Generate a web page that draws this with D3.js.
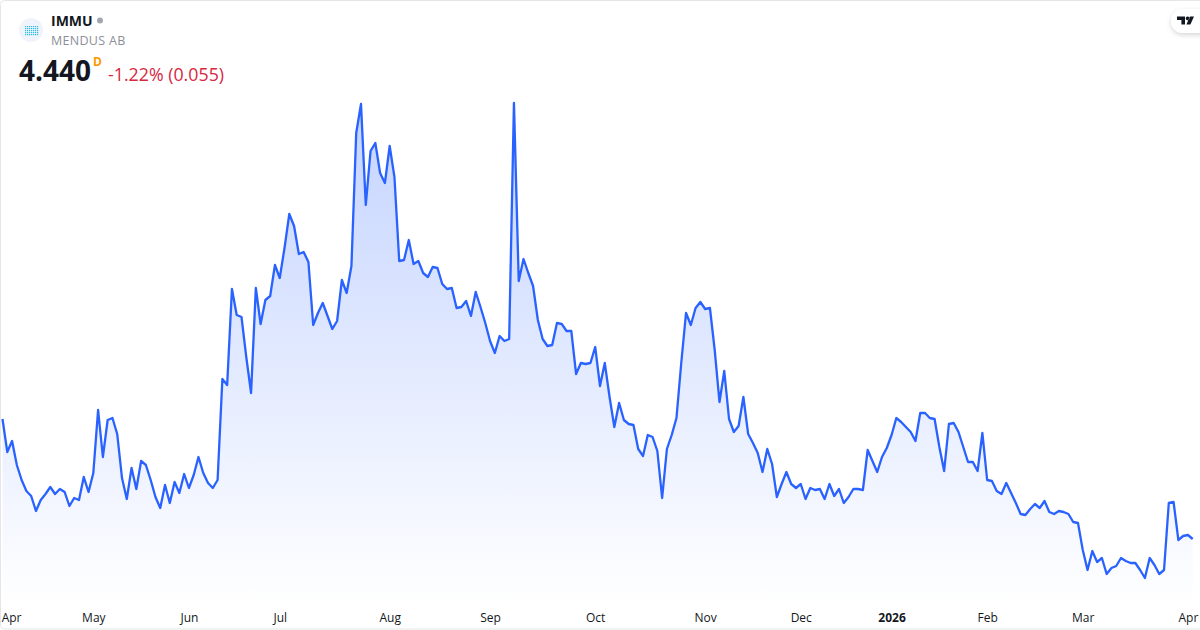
<!DOCTYPE html>
<html><head><meta charset="utf-8">
<script src="https://cdn.jsdelivr.net/npm/d3@7/dist/d3.min.js"></script>
<style>html,body{margin:0;padding:0;background:#fff;overflow:hidden}svg{display:block}text{font-family:"Open Sans",sans-serif}</style>
</head><body><div id="chart"></div>
<script>
const closes = [6.84,6.18,6.40,5.92,5.62,5.40,5.30,5.00,5.22,5.34,
5.48,5.34,5.44,5.38,5.10,5.26,5.22,5.68,5.38,5.76,
7.02,6.08,6.82,6.86,6.54,5.66,5.24,5.86,5.44,6.00,
5.92,5.62,5.28,5.06,5.52,5.16,5.58,5.36,5.74,5.46,
5.72,6.08,5.76,5.56,5.46,5.62,7.64,7.52,9.44,8.92,
8.88,8.08,7.36,9.46,8.74,9.22,9.30,9.92,9.66,10.26,
10.94,10.70,10.14,10.18,9.98,8.72,8.96,9.16,8.90,8.64,
8.80,9.62,9.36,9.90,12.56,13.14,11.12,12.20,12.36,11.76,
11.56,12.30,11.68,10.00,10.02,10.42,9.94,10.00,9.76,9.68,
9.88,9.86,9.54,9.44,9.46,9.06,9.08,9.20,8.90,9.38,
9.08,8.76,8.40,8.16,8.50,8.40,8.44,13.16,9.60,10.04,
9.76,9.50,8.82,8.44,8.30,8.32,8.76,8.74,8.60,8.60,
7.74,7.96,7.94,7.96,8.28,7.50,7.96,7.28,6.68,7.16,
6.82,6.74,6.72,6.24,6.10,6.52,6.48,6.20,5.26,6.24,
6.52,6.86,7.96,8.96,8.72,9.06,9.18,9.04,9.06,8.22,
7.18,7.80,6.84,6.58,6.70,7.28,6.54,6.36,6.16,5.78,
6.24,5.94,5.28,5.54,5.78,5.54,5.46,5.54,5.24,5.46,
5.42,5.44,5.24,5.54,5.30,5.44,5.16,5.28,5.44,5.44,
5.42,6.22,6.00,5.78,6.08,6.26,6.52,6.86,6.78,6.68,
6.58,6.40,6.96,6.96,6.86,6.84,6.28,5.80,6.74,6.76,
6.58,6.28,5.98,5.98,5.80,6.56,5.62,5.60,5.40,5.34,
5.56,5.36,5.16,4.94,4.92,5.04,5.14,5.06,5.20,4.98,
4.94,5.00,4.98,4.94,4.78,4.76,4.22,3.82,4.20,3.98,
4.06,3.74,3.86,3.90,4.06,4.00,3.96,3.96,3.82,3.66,
4.06,3.92,3.74,3.82,5.16,5.18,4.42,4.50,4.52,4.44];

const tickIndex = [1.8,19,39,58,81,102,124,147,167,186,206,226,248];
const tickLabels = ["Apr","May","Jun","Jul","Aug","Sep","Oct","Nov","Dec","2026","Feb","Mar","Apr"];
const symbol = "IMMU";
const company = "MENDUS AB";
const lastPrice = "4.440";
const interval = "D";
const change = "-1.22% (0.055)";

const W = 1200, H = 630;
const svg = d3.select("#chart").append("svg").attr("width", W).attr("height", H);
const defs = svg.append("defs");

const grad = defs.append("linearGradient").attr("id","areaFill")
  .attr("gradientUnits","userSpaceOnUse").attr("x1",0).attr("x2",0).attr("y1",100).attr("y2",606);
grad.append("stop").attr("offset",0).attr("stop-color","#2962ff").attr("stop-opacity",0.28);
grad.append("stop").attr("offset",1).attr("stop-color","#2962ff").attr("stop-opacity",0);

const blur = defs.append("filter").attr("id","pillShadow").attr("x","-40%").attr("y","-40%").attr("width","180%").attr("height","180%");
blur.append("feDropShadow").attr("dx",0).attr("dy",2).attr("stdDeviation",2.5).attr("flood-color","#000").attr("flood-opacity",0.16);

const x = d3.scaleLinear().domain([0, closes.length - 1]).range([2.5, 1192.7]);
const y = d3.scaleLinear().domain([3.1, 13.2]).range([606, 101]);

const area = d3.area().x((d,i)=>x(i)).y0(y(3.1)).y1(d=>y(d)).curve(d3.curveLinear);
const line = d3.line().x((d,i)=>x(i)).y(d=>y(d)).curve(d3.curveLinear);

svg.append("path").datum(closes).attr("d",area).attr("fill","url(#areaFill)");
svg.append("path").datum(closes).attr("d",line).attr("fill","none")
  .attr("stroke","#2962ff").attr("stroke-width",2.3).attr("stroke-linejoin","round");

const axis = d3.axisBottom(x).tickValues(tickIndex).tickSize(0).tickPadding(0)
  .tickFormat((d,i)=>tickLabels[i]);
const gx = svg.append("g").attr("transform","translate(0,613.5)").call(axis);
gx.select(".domain").remove();
gx.selectAll("text").attr("font-size",12).attr("fill","#131722")
  .style("font-family",'"Open Sans",sans-serif')
  .attr("font-weight",(d,i)=>tickLabels[i]==="2026"?700:400);

// card frame
svg.append("rect").attr("x",0.5).attr("y",0.5).attr("width",W+8).attr("height",H-1.5).attr("rx",4)
  .attr("fill","none").attr("stroke","#e6e6e6").attr("stroke-width",1);

// header
svg.append("circle").attr("cx",31).attr("cy",30).attr("r",12).attr("fill","#f0f3fa");
const dotCols = d3.range(25,38,2), dotRows = d3.range(26,35,2);
dotRows.forEach(r=>dotCols.forEach(c=>{
  svg.append("rect").attr("x",c).attr("y",r).attr("width",1.2).attr("height",1.2).attr("fill","#2bbfe8");
}));
svg.append("text").attr("x",51).attr("y",26).attr("font-size",14).attr("font-weight",700).attr("fill","#131722").text(symbol);
svg.append("circle").attr("cx",100).attr("cy",20.5).attr("r",3).attr("fill","#a3a6af");
svg.append("text").attr("x",51).attr("y",45).attr("font-size",12.5).attr("fill","#8c8f98").attr("letter-spacing",0.3).text(company);
svg.append("text").attr("x",19).attr("y",81).attr("font-size",28).attr("font-weight",700).attr("fill","#131722").text(lastPrice);
svg.append("text").attr("x",93).attr("y",66).attr("font-size",12).attr("font-weight",700).attr("fill","#ff9800").text(interval);
svg.append("text").attr("x",108).attr("y",81).attr("font-size",17.8).attr("fill","#d6283f").text(change);

// logo pill
svg.append("rect").attr("x",1171).attr("y",9).attr("width",50).attr("height",24).attr("rx",12)
  .attr("fill","#fff").attr("filter","url(#pillShadow)");
svg.append("path").attr("fill","#131722")
  .attr("d","M1177 16.5h8v8h-3.6v-4.4h-4.4z M1187.6 16.5a1.9 1.9 0 1 0 0.01 0z M1190 16.5h4l-3.6 8h-4z");
</script></body></html>
